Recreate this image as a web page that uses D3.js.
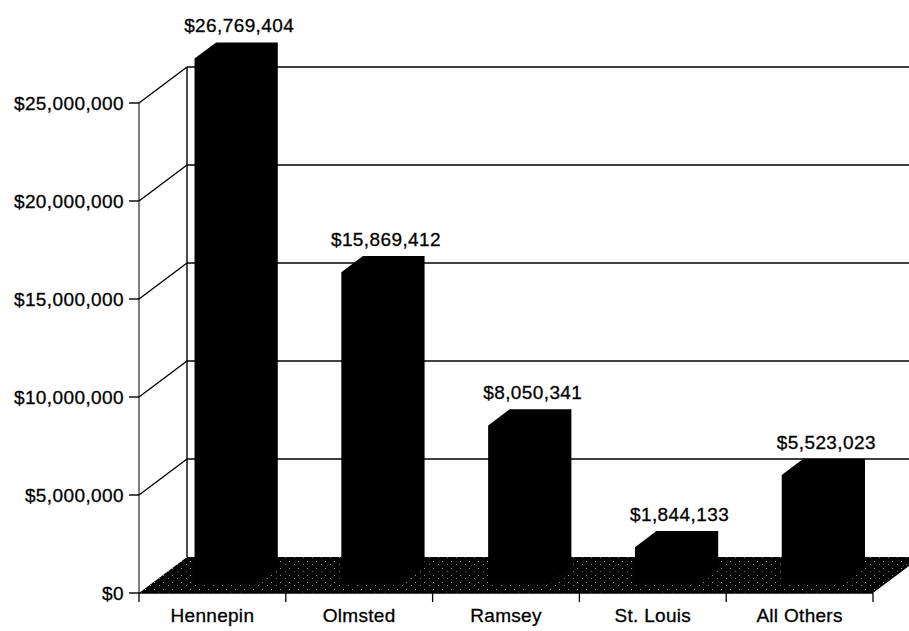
<!DOCTYPE html>
<html>
<head>
<meta charset="utf-8">
<script src="https://cdn.jsdelivr.net/npm/d3@7"></script>
<style>
  html, body { margin: 0; padding: 0; background: #fff; }
  svg { display: block; }
</style>
</head>
<body>
<script>
// Chart data
const categories = ["Hennepin", "Olmsted", "Ramsey", "St. Louis", "All Others"];
const values = [26769404, 15869412, 8050341, 1844133, 5523023];
const yTicks = [0, 5000000, 10000000, 15000000, 20000000, 25000000];

// Dimensions
const W = 909, H = 631;
const plot = { left: 139, right: 873, base: 593, top: 103 };
const depth = { dx: 48, dy: -36 };      // full floor depth
const barFront = 0.27, barDepth = 0.45; // fractions of depth

const font = "'Liberation Sans', Arial, Helvetica, sans-serif";

const svg = d3.select("body").append("svg")
    .attr("width", W)
    .attr("height", H);

// Stipple pattern for the floor
const pat = svg.append("defs").append("pattern")
    .attr("id", "stipple")
    .attr("width", 9).attr("height", 7)
    .attr("patternUnits", "userSpaceOnUse");
pat.append("rect").attr("width", 9).attr("height", 7).attr("fill", "#050505");
pat.append("rect").attr("x", 1).attr("y", 1).attr("width", 1).attr("height", 1).attr("fill", "#9a9a9a");
pat.append("rect").attr("x", 6).attr("y", 4).attr("width", 1).attr("height", 1).attr("fill", "#707070");

// Scales
const x = d3.scaleBand()
    .domain(categories)
    .range([plot.left, plot.right])
    .paddingInner(0.58)
    .paddingOuter(0.29);

const y = d3.scaleLinear()
    .domain([0, 25000000])
    .range([plot.base, plot.top]);

const fmt = d => "$" + d3.format(",")(d);

// Shared text style
function textStyle(sel, size, spacing) {
  sel.style("font-family", font)
     .style("font-size", size + "px")
     .style("letter-spacing", spacing + "px")
     .attr("fill", "#000")
     .attr("stroke", "#000")
     .attr("stroke-width", 0.3);
}

// Back wall gridlines
svg.append("g").selectAll("line")
    .data(yTicks.slice(1))
  .enter().append("line")
    .attr("x1", plot.left + depth.dx)
    .attr("x2", plot.right + depth.dx + 60)
    .attr("y1", d => y(d) + depth.dy)
    .attr("y2", d => y(d) + depth.dy)
    .attr("stroke", "#000")
    .attr("stroke-width", 1.4);

// Left wall: diagonals and edges
svg.append("g").selectAll("line")
    .data(yTicks.slice(1))
  .enter().append("line")
    .attr("x1", plot.left)
    .attr("y1", d => y(d))
    .attr("x2", plot.left + depth.dx)
    .attr("y2", d => y(d) + depth.dy)
    .attr("stroke", "#000")
    .attr("stroke-width", 1.4);

svg.append("line")
    .attr("x1", plot.left).attr("x2", plot.left)
    .attr("y1", y(25000000)).attr("y2", plot.base)
    .attr("stroke", "#000").attr("stroke-width", 1);

svg.append("line")
    .attr("x1", plot.left + depth.dx).attr("x2", plot.left + depth.dx)
    .attr("y1", y(25000000) + depth.dy).attr("y2", plot.base + depth.dy)
    .attr("stroke", "#000").attr("stroke-width", 1.4);

// Floor
const floorPts = [
  [plot.left, plot.base],
  [plot.right, plot.base],
  [plot.right + depth.dx, plot.base + depth.dy],
  [plot.left + depth.dx, plot.base + depth.dy]
];
svg.append("polygon")
    .attr("points", floorPts.map(p => p.join(",")).join(" "))
    .attr("fill", "url(#stipple)");

// Bars (front face + top + side, all black)
const fx = barFront * depth.dx, fy = barFront * depth.dy;
const bdx = barDepth * depth.dx, bdy = barDepth * depth.dy;
const bw = x.bandwidth();

const bars = categories.map((c, i) => {
  const x0 = x(c) + fx, x1 = x0 + bw;
  const yb = plot.base + fy;
  const yt = y(values[i]) + fy;
  return { c, v: values[i], x0, x1, yb, yt };
});

svg.append("g").selectAll("path")
    .data(bars)
  .enter().append("path")
    .attr("d", d => `M${d.x0},${d.yb} L${d.x0},${d.yt} L${d.x0 + bdx},${d.yt + bdy}` +
                    ` L${d.x1 + bdx},${d.yt + bdy} L${d.x1 + bdx},${d.yb + bdy} L${d.x1},${d.yb} Z`)
    .attr("fill", "#000");

// Value labels
svg.append("g").selectAll("text")
    .data(bars)
  .enter().append("text")
    .attr("x", d => (d.x0 + d.x1 + bdx) / 2 + 3)
    .attr("y", d => d.yt + bdy - 10)
    .attr("text-anchor", "middle")
    .call(textStyle, 19, 0.4)
    .text(d => fmt(d.v));

// Y axis ticks and labels
const yAxis = svg.append("g");
yAxis.selectAll("line")
    .data(yTicks)
  .enter().append("line")
    .attr("x1", plot.left - 10).attr("x2", plot.left)
    .attr("y1", d => y(d)).attr("y2", d => y(d))
    .attr("stroke", "#000").attr("stroke-width", 1.4);
yAxis.selectAll("text")
    .data(yTicks)
  .enter().append("text")
    .attr("x", plot.left - 15)
    .attr("y", d => y(d))
    .attr("dy", "0.36em")
    .attr("text-anchor", "end")
    .call(textStyle, 19, 0.4)
    .text(fmt);

// X axis line, ticks at category boundaries, labels
const step = x.step();
const bounds = d3.range(categories.length + 1).map(i => plot.left + i * step);
svg.append("line")
    .attr("x1", plot.left).attr("x2", plot.right)
    .attr("y1", plot.base).attr("y2", plot.base)
    .attr("stroke", "#000").attr("stroke-width", 1.5);
svg.append("g").selectAll("line")
    .data(bounds)
  .enter().append("line")
    .attr("x1", d => d).attr("x2", d => d)
    .attr("y1", plot.base).attr("y2", plot.base + 9)
    .attr("stroke", "#000").attr("stroke-width", 1.3);
svg.append("g").selectAll("text")
    .data(categories)
  .enter().append("text")
    .attr("x", d => x(d) + bw / 2)
    .attr("y", plot.base + 29)
    .attr("text-anchor", "middle")
    .call(textStyle, 19, 0.3)
    .text(d => d);
</script>
</body>
</html>
